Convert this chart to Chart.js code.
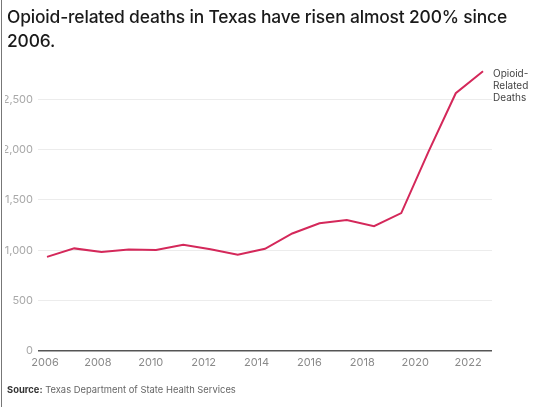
<!DOCTYPE html>
<html>
<head>
<meta charset="utf-8">
<script src="https://cdn.jsdelivr.net/npm/chart.js@4.4.1/dist/chart.umd.min.js"></script>
<style>
  html, body { margin: 0; padding: 0; background: #fff; }
  #wrap { position: relative; width: 540px; height: 407px; overflow: hidden; font-family: Inter, "Open Sans", sans-serif; }
  #edge { position: absolute; left: 1px; top: 0; width: 1px; height: 407px; background: #777; }
  #titulo { position: absolute; left: 7px; top: 5px; width: 530px; font-size: 17.4px; font-weight: 500; line-height: 24px; color: #1a1a1a; letter-spacing: -0.15px; }
  #fuente { position: absolute; left: 7px; top: 384px; font-size: 9.4px; color: #666; }
  #fuente b { color: #333; }
  canvas { position: absolute; left: 0; top: 0; }
</style>
</head>
<body>
<div id="wrap">
  <canvas id="grafico" width="540" height="407"></canvas>
  <div id="edge"></div>
  <div id="titulo">Opioid-related deaths in Texas have risen almost 200% since 2006.</div>
  <div id="fuente"><b>Source:</b> Texas Department of State Health Services</div>
</div>
<script>
  // datos
  let anios = [2006, 2007, 2008, 2009, 2010, 2011, 2012, 2013, 2014, 2015, 2016, 2017, 2018, 2019, 2020, 2021, 2022]
  let muertes = [935, 1019, 982, 1009, 1002, 1055, 1010, 955, 1015, 1167, 1268, 1300, 1240, 1370, 1980, 2560, 2778]
  let etiquetasX = [2006, 2008, 2010, 2012, 2014, 2016, 2018, 2020, 2022]
  let etiquetasY = [0, 500, 1000, 1500, 2000, 2500]
  let nombreSerie = ["Opioid-", "Related", "Deaths"]

  let puntos = anios.map((a, i) => ({ x: a, y: muertes[i] }))

  // etiqueta al final de la linea
  const etiquetaFinal = {
    id: "etiquetaFinal",
    afterDatasetsDraw(chart) {
      const ctx = chart.ctx
      const meta = chart.getDatasetMeta(0)
      const ultimo = meta.data[meta.data.length - 1]
      ctx.save()
      ctx.font = "10px Inter, 'Open Sans', sans-serif"
      ctx.fillStyle = "#444"
      ctx.textAlign = "left"
      ctx.textBaseline = "middle"
      nombreSerie.forEach((t, i) => {
        ctx.fillText(t, ultimo.x + 10, ultimo.y + 3 + i * 12)
      })
      ctx.restore()
    }
  }

  const ctx = document.getElementById("grafico").getContext("2d")
  const chart = new Chart(ctx, {
    type: "line",
    data: {
      datasets: [
        {
          label: "Opioid-Related Deaths",
          data: puntos,
          borderColor: "#d4285a",
          backgroundColor: "#d4285a",
          borderWidth: 2,
          pointRadius: 0,
          tension: 0,
          xAxisID: "x",
          yAxisID: "y"
        }
      ]
    },
    options: {
      responsive: false,
      animation: false,
      layout: { padding: { left: 5, right: 48, top: 64, bottom: 31 } },
      plugins: { legend: { display: false }, tooltip: { enabled: false } },
      scales: {
        x: {
          type: "linear",
          display: false,
          min: 2005.67,
          max: 2022.33
        },
        xl: {
          type: "linear",
          position: "bottom",
          min: 2005.735,
          max: 2022.905,
          afterBuildTicks: (axis) => { axis.ticks = etiquetasX.map(v => ({ value: v })) },
          afterFit: (axis) => { axis.height = 25 },
          grid: { display: false, drawTicks: false },
          border: { display: false },
          ticks: {
            autoSkip: false,
            maxRotation: 0,
            padding: 5,
            color: "#8a8a8a",
            font: { family: "Inter, 'Open Sans', sans-serif", size: 11 },
            callback: v => String(v)
          }
        },
        y: {
          min: 0,
          max: 2850,
          afterBuildTicks: (axis) => { axis.ticks = etiquetasY.map(v => ({ value: v })) },
          afterFit: (axis) => { axis.width = 33 },
          border: { display: false },
          grid: {
            drawTicks: false,
            color: c => c.tick && c.tick.value === 0 ? "#555" : "#ececec",
            lineWidth: c => c.tick && c.tick.value === 0 ? 1.5 : 1
          },
          ticks: {
            padding: 5,
            color: "#a8a8a8",
            font: { family: "Inter, 'Open Sans', sans-serif", size: 11 },
            callback: v => v.toLocaleString("en-US")
          }
        }
      }
    },
    plugins: [etiquetaFinal]
  })
</script>
</body>
</html>
